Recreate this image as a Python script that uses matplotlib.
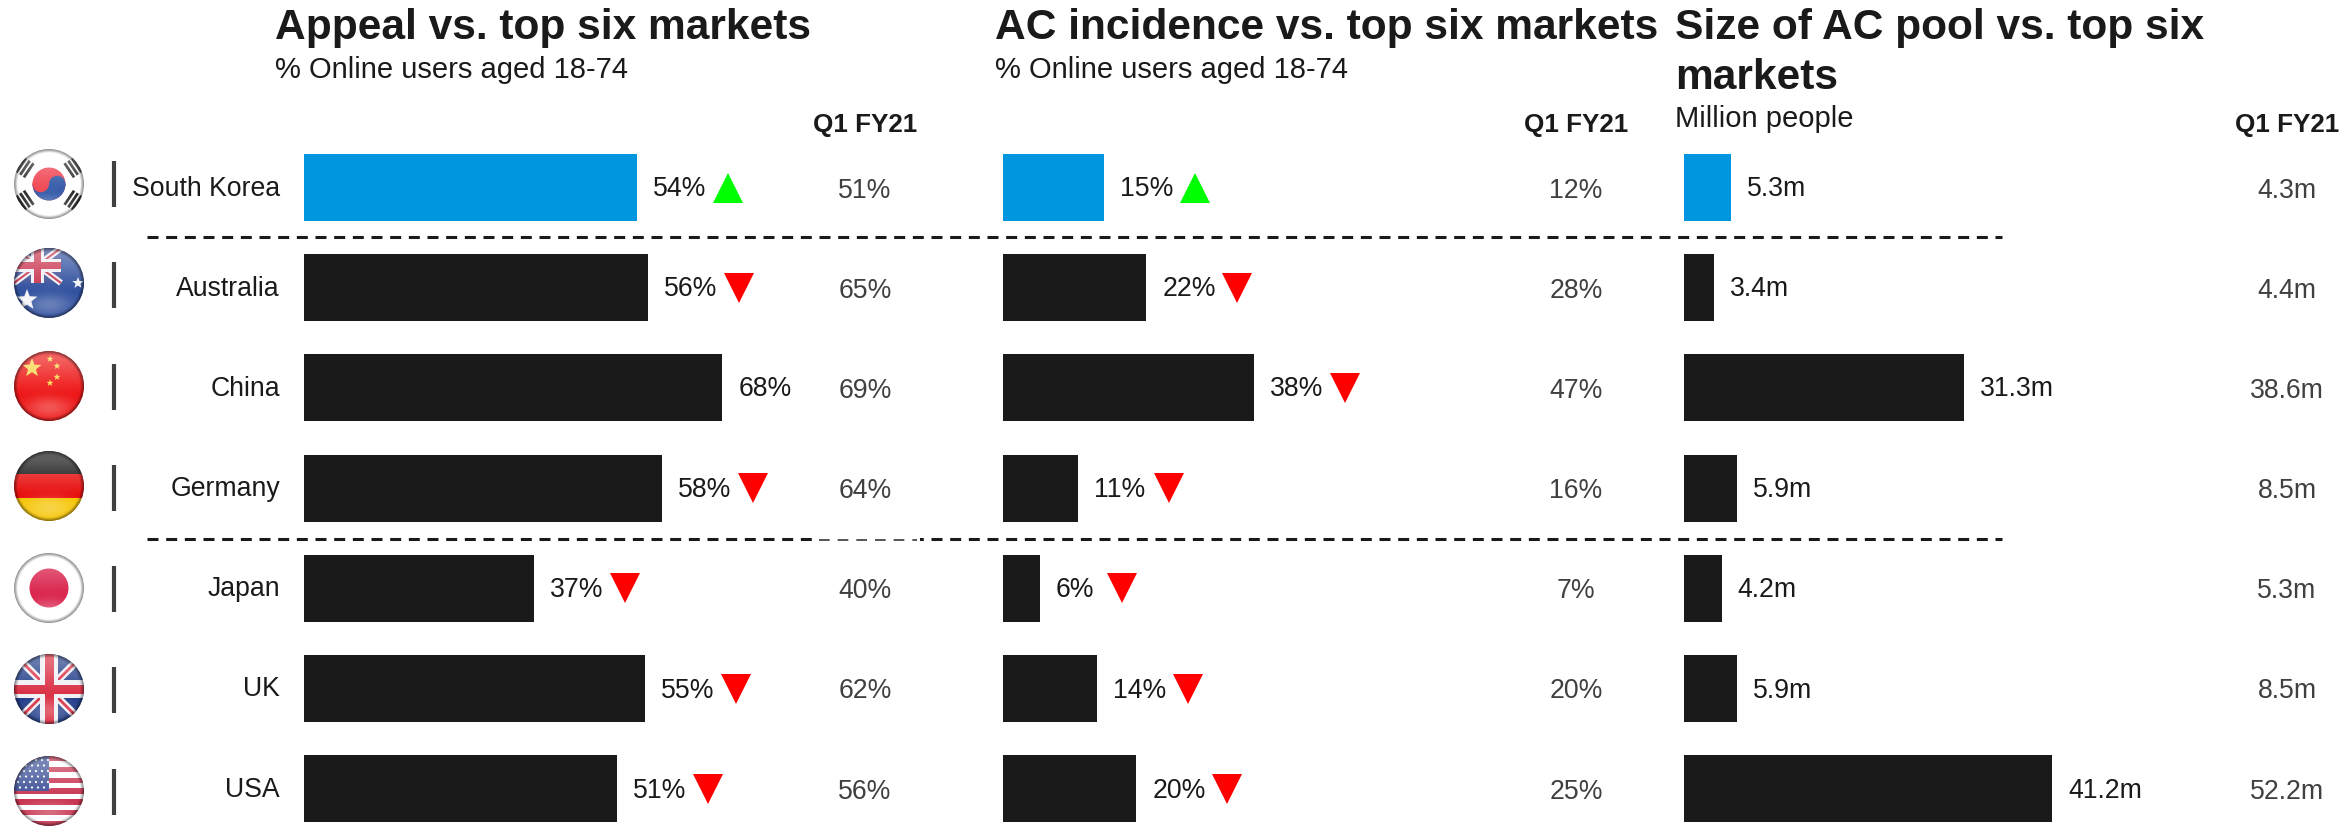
import matplotlib
matplotlib.use("Agg")
import numpy as np
import matplotlib.pyplot as plt
from matplotlib.patches import Circle, Rectangle, Polygon, Wedge

plt.rcParams['font.family'] = ['Liberation Sans', 'DejaVu Sans']
plt.rcParams['lines.scale_dashes'] = False

W, H = 2351, 826
countries = ["South Korea", "Australia", "China", "Germany", "Japan", "UK", "USA"]
appeal = [54.1, 55.8, 67.9, 58.1, 37.4, 55.4, 50.8]
appeal_prev = [51, 65, 69, 64, 40, 62, 56]
appeal_dir = ["up", "down", "", "down", "down", "down", "down"]
incidence = [15.3, 21.7, 38.0, 11.3, 5.6, 14.3, 20.2]
incidence_prev = [12, 28, 47, 16, 7, 20, 25]
incidence_dir = ["up", "down", "down", "down", "down", "down", "down"]
pool = [5.3, 3.4, 31.3, 5.9, 4.2, 5.9, 41.2]
pool_prev = [4.3, 4.4, 38.6, 8.5, 5.3, 8.5, 52.2]
pool_dir = [""] * 7
row_centres = [187.5, 287.5, 387.5, 488, 588, 688.5, 788.7]

BLUE, BLACK, GREY = "#0096DF", "#1A1A1A", "#404040"
fig = plt.figure(figsize=(W / 100, H / 100), dpi=100, facecolor="white")

bg = fig.add_axes([0, 0, 1, 1])
bg.set_xlim(0, W); bg.set_ylim(H, 0); bg.axis("off")


def panel(x0, scale, vals, prev, dirs, fmt, prev_x, title_lines, subtitle, tx, ty, sub_y):
    width = W - x0
    ax = fig.add_axes([x0 / W, 0, width / W, 1])
    ax.set_xlim(0, width / scale)
    ax.set_ylim(H, 0)
    ax.axis("off")
    colors = [BLUE] + [BLACK] * (len(vals) - 1)
    ax.barh(row_centres, vals, height=67, color=colors)
    for v, p, d, y in zip(vals, prev, dirs, row_centres):
        ax.annotate(fmt(v), (v, y + 2), xytext=(16, 0), textcoords="offset pixels",
                    va="center", ha="left", fontsize=19.2, color=BLACK)
        if d:
            gap = 91 if v >= 10 else 82
            ax.plot([v + gap / scale], [y], marker="^" if d == "up" else "v",
                    ms=22, mew=0, color="#00FF00" if d == "up" else "#FF0000", ls="none")
        bg.text(prev_x, y + 3, prev_fmt(fmt, p), ha="center", va="center", fontsize=19.2, color=GREY)
    for i, line in enumerate(title_lines):
        bg.text(tx, ty + i * 50, line, fontsize=30.6, fontweight="bold", color=BLACK, va="baseline")
    bg.text(tx, sub_y, subtitle, fontsize=21, color=BLACK, va="baseline")
    bg.text(prev_x, 125, "Q1 FY21", ha="center", va="center", fontsize=18.7,
            fontweight="bold", color=BLACK)


def prev_fmt(fmt, p):
    return fmt(p)


pct = lambda v: f"{v:.0f}%"
mil = lambda v: f"{v:.1f}m"
panel(304, 6.16, appeal, appeal_prev, appeal_dir, pct, 865,
      ["Appeal vs. top six markets"], "% Online users aged 18-74", 275, 39, 78)
panel(1003, 6.6, incidence, incidence_prev, incidence_dir, pct, 1576,
      ["AC incidence vs. top six markets"], "% Online users aged 18-74", 995, 39, 78)
panel(1684, 8.93, pool, pool_prev, pool_dir, mil, 2287,
      ["Size of AC pool vs. top six", "markets"], "Million people", 1675, 39, 127)

# Group rules
for y in (237, 539):
    bg.plot([147, 2002], [y, y], color=BLACK, lw=2.2, dashes=(7.92, 5.52), dash_capstyle="butt")
bg.add_patch(Rectangle((815, 535), 105, 8, color="white", lw=0, zorder=2.5))
bg.plot([819, 917], [540, 540], color="#555555", lw=1.4, dashes=(7.7, 5.74),
        dash_capstyle="butt", zorder=2.6)

# Separators and country names
sep_centres = [184, 285, 387, 488, 589, 690, 792]
for name, y, sy in zip(countries, row_centres, sep_centres):
    bg.plot([114, 114], [sy - 23, sy + 23], color=GREY, lw=3, solid_capstyle="butt")
    bg.text(280, y + 1, name, ha="right", va="center", fontsize=19.2, color=BLACK)

# Flags
R = 35
flag_centres = dict(zip(countries, [184, 283, 386, 486, 588, 689, 791]))
CX = 49


def clip(artist):
    artist.set_clip_path(circ)
    return artist


def rect(c, x, y, w, h, col):
    clip(bg.add_patch(Rectangle((CX + x, c + y), w, h, color=col, lw=0, zorder=3)))


def disc(c, x, y, r, col, z=3):
    clip(bg.add_patch(Circle((CX + x, c + y), r, color=col, lw=0, zorder=z)))


def band(c, p1, p2, lw, col, z=3):
    l, = bg.plot([CX + p1[0], CX + p2[0]], [c + p1[1], c + p2[1]], color=col, lw=lw,
                 zorder=z, solid_capstyle="butt")
    clip(l)


def star(c, x, y, r, col):
    a = np.pi / 2 + np.arange(10) * np.pi / 5
    rr = np.where(np.arange(10) % 2 == 0, r, r * 0.42)
    pts = np.c_[CX + x + rr * np.cos(a), c + y - rr * np.sin(a)]
    clip(bg.add_patch(Polygon(pts, color=col, lw=0, zorder=4)))


yy, xx = np.mgrid[-1:1:141j, -1:1:141j]
edge = np.hypot(xx, yy)
rim = np.clip((edge - .90) / .10, 0, 1) * .45
top_light = np.clip(-yy + .25, 0, 1) * .32
bottom_glow = np.exp(-((yy - .62) ** 2) / .10 - (xx ** 2) / .45) * .28

for name, c in flag_centres.items():
    circ = Circle((CX, c), R, transform=bg.transData)
    if name == "South Korea":
        rect(c, -R, -R, 2 * R, 2 * R, "#FFFFFF")
        disc(c, 0, 0, 16.5, "#F0424F")
        clip(bg.add_patch(Wedge((CX, c), 16.5, 0, 180, color="#2F56A6", lw=0, zorder=3)))
        disc(c, -8.25, 0, 8.25, "#F0424F", 4)
        disc(c, 8.25, 0, 8.25, "#2F56A6", 4)
        for sx, sy in ((-1, -1), (1, -1), (-1, 1), (1, 1)):
            ux, uy = sx * .83, sy * .56
            tx_, ty_ = -uy, ux
            for d in (24.5, 29, 33.5):
                px, py = ux * d, uy * d
                band(c, (px - 8.5 * tx_, py - 8.5 * ty_), (px + 8.5 * tx_, py + 8.5 * ty_),
                     2.0, "#2B2B2B")
    elif name == "Australia":
        rect(c, -R, -R, 2 * R, 2 * R, "#2F4F9E")
        rect(c, -R, -R, 47, 35, "#3A4E96")
        band(c, (-35, -35), (12, 0), 4.5, "#F0F0F5")
        band(c, (-35, 0), (12, -35), 4.5, "#F0F0F5")
        band(c, (-35, -35), (12, 0), 1.5, "#C8324E")
        band(c, (-35, 0), (12, -35), 1.5, "#C8324E")
        rect(c, -18, -35, 13, 35, "#F0F0F5")
        rect(c, -35, -24, 47, 13, "#F0F0F5")
        rect(c, -15, -35, 7, 35, "#C8324E")
        rect(c, -35, -21, 47, 7, "#C8324E")
        star(c, -22, 17, 11, "#F4F4F8")
        star(c, 29, 0, 6, "#F4F4F8")
    elif name == "China":
        rect(c, -R, -R, 2 * R, 2 * R, "#EE1414")
        star(c, -17, -18, 10, "#F7D64A")
        for sx, sy in ((1, -27), (8, -20), (8, -9), (1, -3)):
            star(c, sx, sy, 3.6, "#F7D64A")
    elif name == "Germany":
        rect(c, -R, -R, 2 * R, 23, "#111111")
        rect(c, -R, -12, 2 * R, 24, "#E80E0E")
        rect(c, -R, 12, 2 * R, 24, "#F5C400")
    elif name == "Japan":
        rect(c, -R, -R, 2 * R, 2 * R, "#FFFFFF")
        disc(c, 0, 0, 19.5, "#D91E48")
    elif name == "UK":
        rect(c, -R, -R, 2 * R, 2 * R, "#1F3C88")
        band(c, (-35, -35), (35, 35), 5.5, "#F0F0F5")
        band(c, (-35, 35), (35, -35), 5.5, "#F0F0F5")
        band(c, (-35, -35), (35, 35), 2, "#D9283E")
        band(c, (-35, 35), (35, -35), 2, "#D9283E")
        rect(c, -9, -R, 18, 2 * R, "#F0F0F5")
        rect(c, -R, -9, 2 * R, 18, "#F0F0F5")
        rect(c, -4.5, -R, 9, 2 * R, "#D9283E")
        rect(c, -R, -4.5, 2 * R, 9, "#D9283E")
    else:
        rect(c, -R, -R, 2 * R, 2 * R, "#FFFFFF")
        for k in range(7):
            rect(c, -R, -R + k * 10.8, 2 * R, 5.4, "#C8324E")
        rect(c, -R, -R, 35, 35, "#3A4E96")
        for i in range(6):
            for j in range(6):
                disc(c, -31 + i * 6 + (j % 2) * 2, -31 + j * 5.5, 1.1, "#FFFFFF", 4)
    # Glossy sphere: light from the top, glow at the bottom, darker rim
    white = np.ones(edge.shape + (4,))
    white[..., 3] = np.clip(top_light + bottom_glow, 0, 1)
    im2 = bg.imshow(white, extent=(CX - R, CX + R, c + R, c - R), zorder=5, aspect="auto",
                    interpolation="bilinear")
    im2.set_clip_path(circ)
    dark = np.zeros(edge.shape + (4,))
    dark[..., 3] = rim
    im = bg.imshow(dark, extent=(CX - R, CX + R, c + R, c - R), zorder=6, aspect="auto",
                   interpolation="bilinear")
    im.set_clip_path(circ)
bg.set_xlim(0, W); bg.set_ylim(H, 0)

fig.savefig("out.png", dpi=100, facecolor="white")
